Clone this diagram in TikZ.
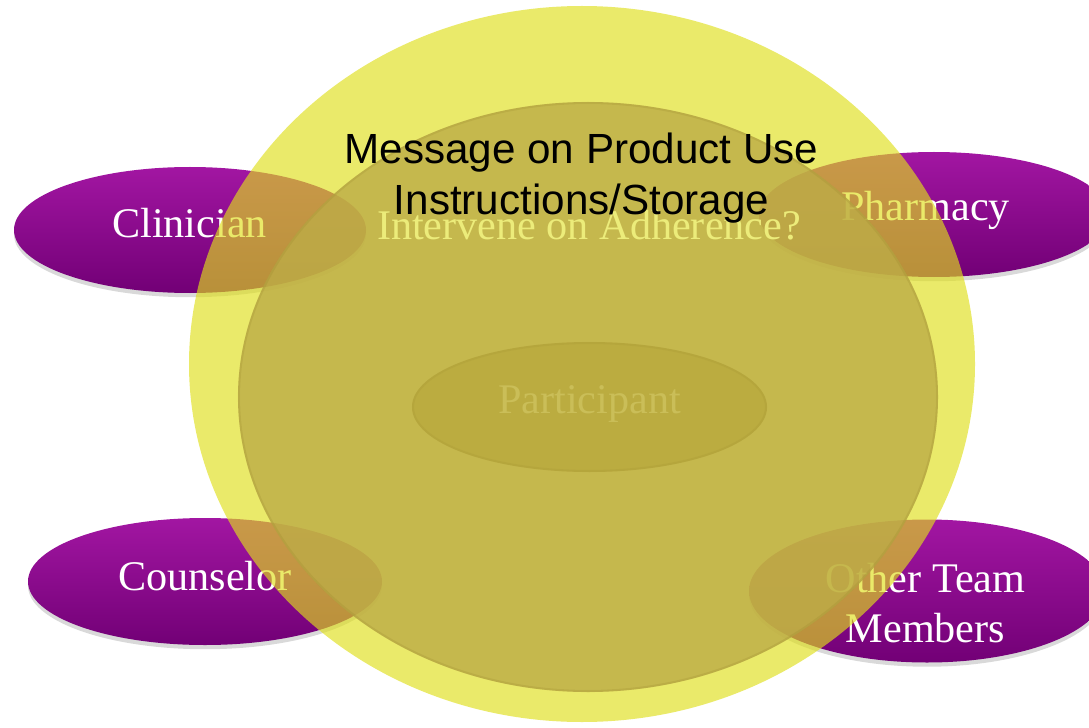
\documentclass[tikz,border=0pt]{standalone}
\usepackage{fontspec}
\setmainfont{Liberation Serif}
\setsansfont{Liberation Sans}
\usepackage{tikz}
\usetikzlibrary{shadows}

\definecolor{plumtop}{RGB}{162,22,162}
\definecolor{plummid}{RGB}{138,8,138}
\definecolor{plumbot}{RGB}{114,0,118}
\definecolor{ringyellow}{RGB}{223,223,26}
\definecolor{innerolive}{RGB}{189,172,71}
\definecolor{rimolive}{RGB}{150,130,40}
\definecolor{coreolive}{RGB}{170,150,40}
\definecolor{paleyellow}{RGB}{236,236,122}
\definecolor{faintyellow}{RGB}{202,190,88}

\begin{document}
\begin{tikzpicture}[x=0.025cm,y=-0.025cm,
    plum/.style={top color=plumtop,middle color=plummid,bottom color=plumbot,
      drop shadow={opacity=0.3,shadow xshift=0pt,shadow yshift=-3pt}},
    big/.style={font=\fontsize{30}{35.4}\selectfont}]
            \tikzstyle{every node}+=[inner sep=0pt,anchor=base,align=center]
            \useasboundingbox (0,0) rectangle (1089,728);
            \path [plum] (190,230) ellipse [x radius=176,y radius=63];
            \path [plum] (934,214.5) ellipse [x radius=175,y radius=62.5];
            \path [plum] (205,581.5) ellipse [x radius=177,y radius=63.5];
            \path [plum] (927,591) ellipse [x radius=178,y radius=71.5];
            \draw (189.5,238) node (clinician) [big,text=white] {Clinician};
            \draw (925.5,221) node (pharmacy) [big,text=white] {Pharmacy};
            \draw (205,590) node (counselor) [big,text=white] {Counselor};
            \draw (925.5,642) node (others) [big,text=white] {Other Team\\Members};
            \fill [ringyellow,opacity=0.65] (582,364) ellipse [x radius=393,y radius=358];
            \fill [innerolive,opacity=0.8] (588,397) ellipse [x radius=350,y radius=295];
            \draw [rimolive,opacity=0.2,line width=1.5pt] (588,397) ellipse [x radius=349,y radius=294];
            \fill [coreolive,opacity=0.35] (589.5,407) ellipse [x radius=177.5,y radius=65];
            \draw [rimolive,opacity=0.15,line width=1.5pt] (589.5,407) ellipse [x radius=176.5,y radius=64];
            \draw (589.5,413) node (participant) [big,text=faintyellow] {Participant};
            \draw (589,240) node (intervene) [big,text=paleyellow] {Intervene on Adherence?};
            \draw (581.5,215) node (message) [font=\sffamily\fontsize{30}{36.85}\selectfont,text=black] {Message on Product Use\\Instructions/Storage};
        \end{tikzpicture}
\end{document}
